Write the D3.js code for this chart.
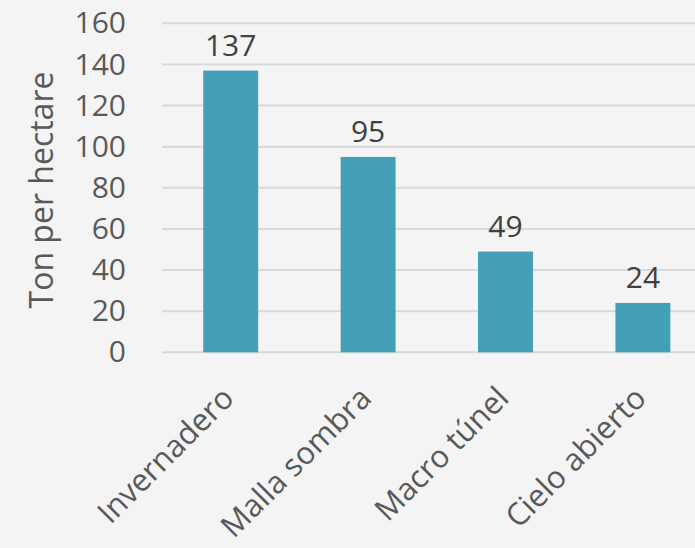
<!DOCTYPE html>
<html>
<head>
<meta charset="utf-8">
<script src="https://cdn.jsdelivr.net/npm/d3@7"></script>
<style>
  html, body { margin: 0; padding: 0; background: #f4f4f4; }
  svg { display: block; }
  text { font-family: "Open Sans", Lato, sans-serif; }
</style>
</head>
<body>
<div id="chart"></div>
<script>
// Yield by production system
const categories = ["Invernadero", "Malla sombra", "Macro túnel", "Cielo abierto"];
const values = [137, 95, 49, 24];
const yTicks = [0, 20, 40, 60, 80, 100, 120, 140, 160];
const yTitle = "Ton per hectare";

const W = 695, H = 548;
const FONT = "'Open Sans', Lato, sans-serif";
const svg = d3.select("#chart").append("svg")
  .attr("width", W).attr("height", H);

svg.append("rect").attr("width", W).attr("height", H).attr("fill", "#f4f4f4");

const x = d3.scaleBand()
  .domain(categories)
  .range([162, 711.6])
  .paddingInner(0.6)
  .paddingOuter(0.3);

const y = d3.scaleLinear()
  .domain([0, 160])
  .range([352.3, 23.3]);

// gridlines
svg.append("g")
  .selectAll("line")
  .data(yTicks)
  .join("line")
  .attr("x1", 162).attr("x2", W)
  .attr("y1", d => y(d)).attr("y2", d => y(d))
  .attr("stroke", "#d9d9d9")
  .attr("stroke-width", 2);

// y axis labels
const yAxis = d3.axisLeft(y).tickValues(yTicks).tickSize(0).tickPadding(0);
const gy = svg.append("g").attr("transform", "translate(126,0)").call(yAxis);
gy.select(".domain").remove();
gy.selectAll("text")
  .attr("font-size", 30)
  .attr("fill", "#595959")
  .attr("font-family", FONT);

// bars
svg.append("g")
  .selectAll("rect")
  .data(values)
  .join("rect")
  .attr("x", (d, i) => x(categories[i]))
  .attr("y", d => y(d))
  .attr("width", x.bandwidth())
  .attr("height", d => y(0) - y(d))
  .attr("fill", "#44a0b9");

// value labels
svg.append("g")
  .selectAll("text")
  .data(values)
  .join("text")
  .attr("x", (d, i) => x(categories[i]) + x.bandwidth() / 2)
  .attr("y", d => y(d) - 15)
  .attr("text-anchor", "middle")
  .attr("font-size", 30)
  .attr("fill", "#404040")
  .text(d => d);

// category labels
const xAxis = d3.axisBottom(x).tickSize(0).tickPadding(0);
const gx = svg.append("g").attr("transform", "translate(0,352)").call(xAxis);
gx.select(".domain").remove();
gx.selectAll("text")
  .attr("font-size", 31)
  .attr("fill", "#595959")
  .attr("font-family", FONT)
  .attr("text-anchor", "end")
  .attr("dy", null)
  .attr("y", 0)
  .attr("transform", "translate(5,48) rotate(-45)");

// y title
svg.append("text")
  .attr("transform", "translate(53,190) rotate(-90)")
  .attr("text-anchor", "middle")
  .attr("font-size", 32)
  .attr("fill", "#595959")
  .text(yTitle);
</script>
</body>
</html>
